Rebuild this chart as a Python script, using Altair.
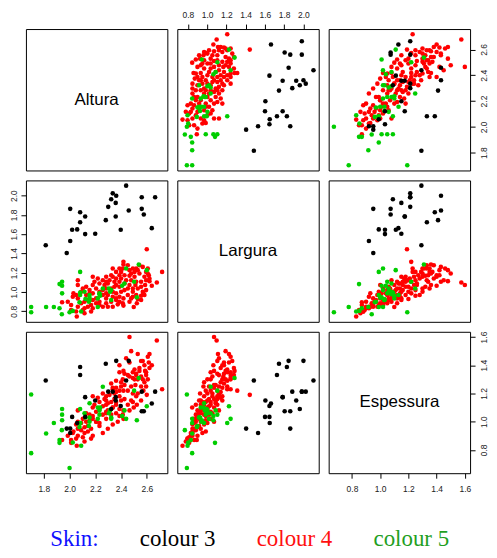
import altair as alt
import pandas as pd

variables = ["Altura", "Largura", "Espessura"]
ticks = {
    "Altura": [1.8, 2.0, 2.2, 2.4, 2.6],
    "Largura": [0.8, 1.0, 1.2, 1.4, 1.6, 1.8, 2.0],
    "Espessura": [0.8, 1.0, 1.2, 1.4, 1.6],
}

# Skin colour 3 (black)
alt3 = [2.664, 2.638, 2.576, 2.560, 2.560, 2.459, 2.439, 2.397, 2.358, 2.358, 2.362, 2.335, 2.323,
        2.300, 2.281, 2.199, 2.121, 2.121, 2.082, 2.059, 2.082, 2.020, 2.005, 2.005, 1.978, 1.815]
lar3 = [1.983, 1.663, 1.805, 1.863, 1.983, 1.846, 2.104, 1.647, 1.784, 1.925, 2.000, 2.024, 1.962,
        1.884, 1.746, 1.605, 1.601, 1.784, 1.725, 1.650, 1.828, 1.647, 1.529, 1.863, 1.405, 1.485]
esp3 = [1.213, 1.129, 1.074, 1.074, 1.213, 1.431, 1.292, 1.111, 1.174, 1.150, 1.431, 1.213, 1.090,
        1.213, 1.410, 1.150, 1.034, 1.174, 1.331, 0.990, 1.387, 1.034, 0.920, 0.951, 0.951, 1.292]

# Skin colour 4 (red)
lar4 = [1.209, 1.443, 1.099, 1.065, 1.113, 1.141, 1.175, 1.192, 1.244, 0.969,
        0.986, 0.962, 1.003, 1.072, 1.123, 1.158, 1.209, 1.261, 1.278, 0.883,
        0.845, 0.927, 0.969, 1.037, 1.072, 1.106, 1.158, 1.209, 1.244, 1.123,
        1.168, 1.227, 0.900, 0.934, 1.003, 0.969, 1.037, 1.072, 1.285, 1.313,
        1.244, 1.209, 1.175, 1.141, 1.106, 1.055, 1.003, 0.934, 0.900, 0.872,
        0.848, 0.900, 0.951, 0.986, 1.055, 1.106, 1.158, 1.123, 1.089, 1.244,
        0.848, 0.883, 0.934, 1.037, 1.072, 1.123, 1.158, 0.969, 1.003, 0.848,
        0.900, 0.883, 0.831, 0.797, 0.865, 0.917, 0.986, 1.072, 1.158, 1.106,
        1.037, 0.779, 0.831, 0.900, 0.969, 1.055, 0.745, 0.797, 0.848, 0.934,
        0.969, 0.986, 0.865, 0.900, 0.893, 0.951, 1.123, 1.037, 1.020, 0.883,
        0.814, 1.089, 1.141, 1.175, 1.209, 1.244, 1.003, 1.020, 1.089, 1.192,
        1.227, 0.917, 0.951, 1.037, 1.244, 1.278, 0.951, 0.859, 1.055, 1.020,
        0.917, 0.934, 1.072, 1.141, 1.106, 0.969, 1.020, 0.865, 0.934, 0.986,
        0.917, 0.848, 1.003, 1.072, 0.814, 1.175, 1.123, 1.192, 1.037, 1.106,
        0.883, 0.986]
alt4 = [2.718, 2.599, 2.677, 2.638, 2.620, 2.620, 2.615, 2.607, 2.607, 2.581,
        2.573, 2.555, 2.568, 2.586, 2.594, 2.581, 2.594, 2.568, 2.542, 2.522,
        2.498, 2.529, 2.517, 2.529, 2.511, 2.517, 2.504, 2.504, 2.517, 2.478,
        2.465, 2.465, 2.465, 2.478, 2.491, 2.452, 2.452, 2.465, 2.418, 2.418,
        2.413, 2.400, 2.426, 2.400, 2.387, 2.387, 2.400, 2.418, 2.387, 2.374,
        2.335, 2.323, 2.335, 2.361, 2.348, 2.348, 2.335, 2.310, 2.297, 2.335,
        2.297, 2.284, 2.284, 2.284, 2.271, 2.258, 2.284, 2.258, 2.232, 2.258,
        2.232, 2.206, 2.180, 2.167, 2.167, 2.180, 2.180, 2.180, 2.180, 2.193,
        2.206, 2.116, 2.116, 2.116, 2.129, 2.129, 2.056, 2.051, 2.064, 2.064,
        2.051, 2.030, 2.012, 1.986, 1.942, 2.025, 2.064, 2.103, 2.155, 2.090,
        2.103, 2.232, 2.219, 2.323, 2.361, 2.387, 2.335, 2.426, 2.426, 2.542,
        2.529, 2.361, 2.387, 2.323, 2.491, 2.452, 2.491, 2.418, 2.555, 2.594,
        2.555, 2.361, 2.361, 2.361, 2.284, 2.297, 2.258, 2.232, 2.206, 2.155,
        2.142, 2.142, 2.090, 2.064, 2.012, 2.387, 2.439, 2.478, 2.491, 2.555,
        2.413, 2.284]
esp4 = [1.23, 1.19, 1.575, 1.40, 1.48, 1.38, 1.42, 1.30, 1.46, 1.28,
        1.22, 1.25, 1.30, 1.36, 1.33, 1.40, 1.35, 1.43, 1.38, 1.12,
        1.10, 1.20, 1.18, 1.30, 1.26, 1.34, 1.30, 1.37, 1.33, 1.25,
        1.32, 1.42, 1.08, 1.15, 1.20, 1.12, 1.22, 1.60, 1.36, 1.22,
        1.30, 1.25, 1.34, 1.28, 1.22, 1.18, 1.15, 1.08, 1.04, 1.00,
        0.98, 1.05, 1.10, 1.14, 1.20, 1.16, 1.24, 1.19, 1.13, 1.23,
        0.95, 1.02, 1.06, 1.12, 1.16, 1.20, 1.15, 1.05, 1.09, 0.92,
        0.97, 1.00, 0.90, 0.88, 0.95, 1.02, 1.04, 1.10, 1.18, 1.12,
        1.07, 0.86, 0.92, 0.96, 1.00, 1.06, 0.83, 0.88, 0.90, 0.95,
        0.98, 0.93, 0.87, 0.90, 0.87, 0.92, 1.08, 1.02, 1.05, 0.94,
        0.89, 1.14, 1.17, 1.27, 1.29, 1.35, 1.10, 1.16, 1.26, 1.36,
        1.48, 1.06, 1.09, 1.14, 1.31, 1.33, 1.14, 1.02, 1.32, 1.25,
        1.15, 1.12, 1.24, 1.21, 1.18, 1.08, 1.11, 0.99, 1.00, 1.01,
        0.97, 0.93, 0.99, 1.00, 0.85, 1.40, 1.45, 1.50, 1.35, 1.43,
        1.05, 1.07]

# Skin colour 5 (green)
lar5 = [0.790, 0.845, 0.845, 0.845, 0.769, 0.831, 0.986, 1.065, 1.106, 1.082,
        0.790, 0.804, 0.797, 0.893, 0.927, 0.969, 0.996, 1.003, 0.917, 0.941,
        0.969, 0.845, 0.934, 0.962, 0.986, 1.037, 0.917, 1.003, 1.020, 1.037,
        1.065, 1.089, 1.106, 1.209, 0.945, 1.227, 1.285, 1.244, 0.976, 0.900]
alt5 = [1.702, 1.702, 1.818, 1.878, 1.940, 1.922, 1.942, 1.942, 1.942, 1.922,
        2.000, 2.025, 2.090, 2.077, 2.123, 2.082, 2.082, 2.116, 2.155, 2.155,
        2.155, 2.219, 2.219, 2.237, 2.232, 2.258, 2.323, 2.315, 2.323, 2.305,
        2.408, 2.426, 2.501, 2.082, 2.522, 2.599, 2.537, 2.439, 2.232, 2.150]
esp5 = [1.192, 0.777, 0.916, 0.990, 0.940, 0.870, 1.090, 1.010, 1.050, 0.850,
        0.672, 0.853, 0.830, 0.962, 1.030, 0.990, 1.090, 1.060, 1.030, 1.000,
        1.130, 1.020, 1.100, 1.100, 1.050, 1.248, 1.030, 1.080, 1.020, 1.060,
        1.040, 1.080, 1.220, 0.990, 1.010, 1.110, 1.310, 1.020, 1.080, 0.970]

skin_levels = ["3", "4", "5"]
skin_colors = ["#000000", "#FF0000", "#00CD00"]

legend_labels = ["Skin:", "colour 3", "colour 4", "colour 5"]
legend_colors = ["#1010FF", "#000000", "#FF1010", "#1FA01F"]

df = pd.DataFrame({
    "Altura": alt4 + alt5 + alt3,
    "Largura": lar4 + lar5 + lar3,
    "Espessura": esp4 + esp5 + esp3,
    "Skin": ["4"] * len(alt4) + ["5"] * len(alt5) + ["3"] * len(alt3),
})

domains = {}
for v in variables:
    lo, hi = df[v].min(), df[v].max()
    pad = 0.04 * (hi - lo)
    domains[v] = [lo - pad, hi + pad]

P = 142
FONT = "Liberation Sans"
PAD = {"top": 5, "bottom": 6, "left": 2, "right": 4.5}


def make_axis(orient, values):
    opts = dict(orient=orient, values=values, format=".1f", domain=False, grid=False,
                tickSize=5, tickColor="#000000", tickWidth=1,
                labelFont=FONT, labelFontSize=8.5, labelColor="#222222",
                labelFlush=False, labelOverlap=False, title=None,
                labelPadding=PAD[orient])
    if orient in ("left", "right"):
        opts.update(labelAngle=270, labelAlign="center",
                    labelBaseline="bottom" if orient == "left" else "top")
    return alt.Axis(**opts)


panels = []
for i, yv in enumerate(variables):
    for j, xv in enumerate(variables):
        xorient = None
        if i == 0 and j == 1:
            xorient = "top"
        elif i == 2 and j in (0, 2):
            xorient = "bottom"
        yorient = None
        if j == 0 and i == 1:
            yorient = "left"
        elif j == 2 and i in (0, 2):
            yorient = "right"

        xaxis = make_axis(xorient, ticks[xv]) if xorient else None
        yaxis = make_axis(yorient, ticks[yv]) if yorient else None

        xenc = alt.X(f"{xv}:Q", scale=alt.Scale(domain=domains[xv], nice=False, zero=False), axis=xaxis)
        yenc = alt.Y(f"{yv}:Q", scale=alt.Scale(domain=domains[yv], nice=False, zero=False), axis=yaxis)

        if i == j:
            base = alt.Chart(df).mark_circle(size=1, opacity=0).encode(x=xenc, y=yenc)
            label = alt.Chart(pd.DataFrame({"name": [xv]})).mark_text(
                font=FONT, fontSize=17, color="#000000", align="center", baseline="middle"
            ).encode(text="name:N", x=alt.value(P / 2), y=alt.value(P / 2))
            panel = alt.layer(base, label).properties(width=P, height=P)
        else:
            panel = alt.Chart(df).mark_circle(size=21, opacity=1).encode(
                x=xenc, y=yenc,
                color=alt.Color("Skin:N", scale=alt.Scale(domain=skin_levels, range=skin_colors), legend=None),
            ).properties(width=P, height=P)
        panels.append(panel)

grid = alt.concat(*panels, columns=3, spacing=10, bounds="flush")

legend = alt.Chart(pd.DataFrame({"label": legend_labels})).mark_text(
    font="Liberation Serif", fontSize=23, align="right", baseline="alphabetic"
).encode(
    x=alt.X("label:N", sort=legend_labels,
            scale=alt.Scale(type="point", domain=legend_labels, range=[73, 425], padding=0), axis=None),
    y=alt.value(22),
    text="label:N",
    color=alt.Color("label:N", scale=alt.Scale(domain=legend_labels, range=legend_colors), legend=None),
).properties(width=446, height=24, view=alt.ViewBackground(stroke="transparent"))

chart = alt.vconcat(grid, legend, spacing=30).properties(
    padding={"left": 1, "top": 0, "right": 0, "bottom": 0}
).configure_view(stroke="#000000", strokeWidth=1).resolve_scale(color="independent")

chart.save("out.html", embed_options={"renderer": "svg", "actions": False})
